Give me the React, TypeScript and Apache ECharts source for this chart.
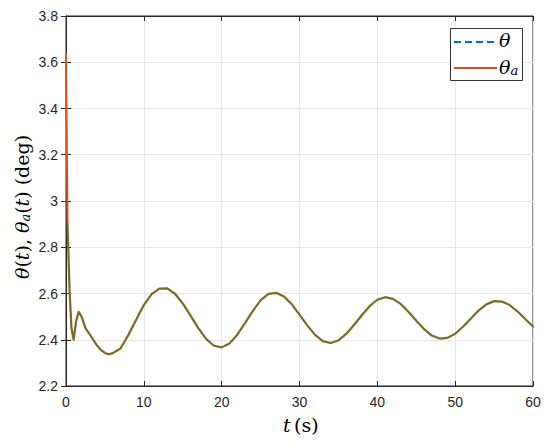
import React, { useEffect, useRef } from "react";
import * as echarts from "echarts";

// time (s) and angle (deg)
const thetaT = [0.2, 0.45, 0.7, 0.98, 1.3, 1.63, 2.0, 2.5, 3.0, 3.5, 4.0, 4.5, 5.0, 5.5, 6, 7, 8, 9, 10, 11, 12, 13, 14, 15, 16, 17, 18, 19, 20, 21, 22, 23, 24, 25, 26, 27, 28, 29, 30, 31, 32, 33, 34, 35, 36, 37, 38, 39, 40, 41, 42, 43, 44, 45, 46, 47, 48, 49, 50, 51, 52, 53, 54, 55, 56, 57, 58, 59, 60];
const thetaV = [2.9, 2.62, 2.45, 2.4, 2.48, 2.521, 2.5, 2.45, 2.425, 2.4, 2.375, 2.355, 2.343, 2.337, 2.342, 2.362, 2.42, 2.485, 2.55, 2.597, 2.621, 2.622, 2.599, 2.557, 2.504, 2.45, 2.404, 2.374, 2.367, 2.384, 2.422, 2.472, 2.525, 2.57, 2.598, 2.603, 2.587, 2.554, 2.509, 2.462, 2.421, 2.394, 2.386, 2.397, 2.425, 2.464, 2.506, 2.545, 2.573, 2.584, 2.577, 2.555, 2.521, 2.482, 2.446, 2.418, 2.405, 2.408, 2.426, 2.456, 2.491, 2.526, 2.553, 2.567, 2.565, 2.55, 2.523, 2.49, 2.457];
const thetaAT = [0, 0.1, 0.2];
const thetaAV = [3.64, 3.27, 2.9];

const legendNames = ["θ", "θa"];

export default function App() {
  const ref = useRef<HTMLDivElement>(null);
  useEffect(() => {
    document.body.style.margin = "0";
    if (!ref.current) return;
    const chart = echarts.init(ref.current, null, { renderer: "svg" });
    const thetaData = thetaT.map((t, i) => [t, thetaV[i]]);
    const thetaAData = thetaAT.map((t, i) => [t, thetaAV[i]]);
    const axisText = { color: "#262626", fontSize: 14, fontFamily: "Liberation Sans, Arial, sans-serif" };
    const gridLine = { show: true, lineStyle: { color: "#e6e6e6", width: 1 } };
    const serif = "DejaVu Serif, serif";
    const rich = {
      i: { fontFamily: serif, fontStyle: "italic", fontSize: 19, color: "#000" },
      r: { fontFamily: serif, fontSize: 19, color: "#000" },
      s: { fontFamily: serif, fontStyle: "italic", fontSize: 13, color: "#000", padding: [8, 0, 0, 0] },
    };
    chart.setOption({
      animation: false,
      backgroundColor: "#ffffff",
      grid: { left: 66, right: 17, top: 16, bottom: 61, show: true, borderColor: "#262626", borderWidth: 1 },
      xAxis: [
        {
          type: "value", min: 0, max: 60, interval: 10,
          axisLine: { show: true, lineStyle: { color: "#262626" } },
          axisTick: { show: true, inside: true, length: 5, lineStyle: { color: "#262626" } },
          axisLabel: { ...axisText, margin: 9 },
          splitLine: gridLine,
        },
        {
          type: "value", position: "top", min: 0, max: 60, interval: 10,
          axisLine: { show: true, lineStyle: { color: "#262626" } },
          axisTick: { show: true, inside: true, length: 5, lineStyle: { color: "#262626" } },
          axisLabel: { show: false }, splitLine: { show: false },
        },
      ],
      yAxis: [
        {
          type: "value", min: 2.2, max: 3.8, interval: 0.2,
          axisLine: { show: true, lineStyle: { color: "#262626" } },
          axisTick: { show: true, inside: true, length: 5, lineStyle: { color: "#262626" } },
          axisLabel: { ...axisText, margin: 8, formatter: (v: number) => String(Math.round(v * 10) / 10) },
          splitLine: gridLine,
        },
        {
          type: "value", position: "right", min: 2.2, max: 3.8, interval: 0.2,
          axisLine: { show: true, lineStyle: { color: "#262626" } },
          axisTick: { show: true, inside: true, length: 5, lineStyle: { color: "#262626" } },
          axisLabel: { show: false }, splitLine: { show: false },
        },
      ],
      series: [
        {
          name: legendNames[1], type: "line", data: thetaAData, symbol: "none", smooth: false,
          lineStyle: { color: "#D95319", width: 2 }, z: 2,
        },
        {
          name: legendNames[0], type: "line", data: thetaData, symbol: "none", smooth: false,
          lineStyle: { color: "#7c6a28", width: 2.2, join: "round", cap: "round" }, z: 3,
        },
      ],
      graphic: [
        {
          type: "text", left: 283, top: 415,
          style: { text: "{i|t} {r|(s)}", rich },
        },
        {
          type: "text", x: 11, y: 279, rotation: Math.PI / 2,
          style: { text: "{i|θ}{r|(}{i|t}{r|), }{i|θ}{s|a}{r|(}{i|t}{r|) (deg)}", rich },
        },
        // legend box
        {
          type: "rect", z: 10,
          shape: { x: 450.5, y: 28.5, width: 72, height: 52 },
          style: { fill: "#ffffff", stroke: "#333333", lineWidth: 1 },
        },
        {
          type: "line", z: 11,
          shape: { x1: 454, y1: 42, x2: 497, y2: 42 },
          style: { stroke: "#0072BD", lineWidth: 2, lineDash: [7, 4] },
        },
        {
          type: "line", z: 11,
          shape: { x1: 454, y1: 68, x2: 497, y2: 68 },
          style: { stroke: "#D95319", lineWidth: 2 },
        },
        {
          type: "text", z: 11, x: 499, y: 30,
          style: { text: "{i|θ}", rich },
        },
        {
          type: "text", z: 11, x: 499, y: 56,
          style: { text: "{i|θ}{s|a}", rich },
        },
      ],
    });
    return () => chart.dispose();
  }, []);
  return <div ref={ref} style={{ width: 550, height: 447 }} />;
}
